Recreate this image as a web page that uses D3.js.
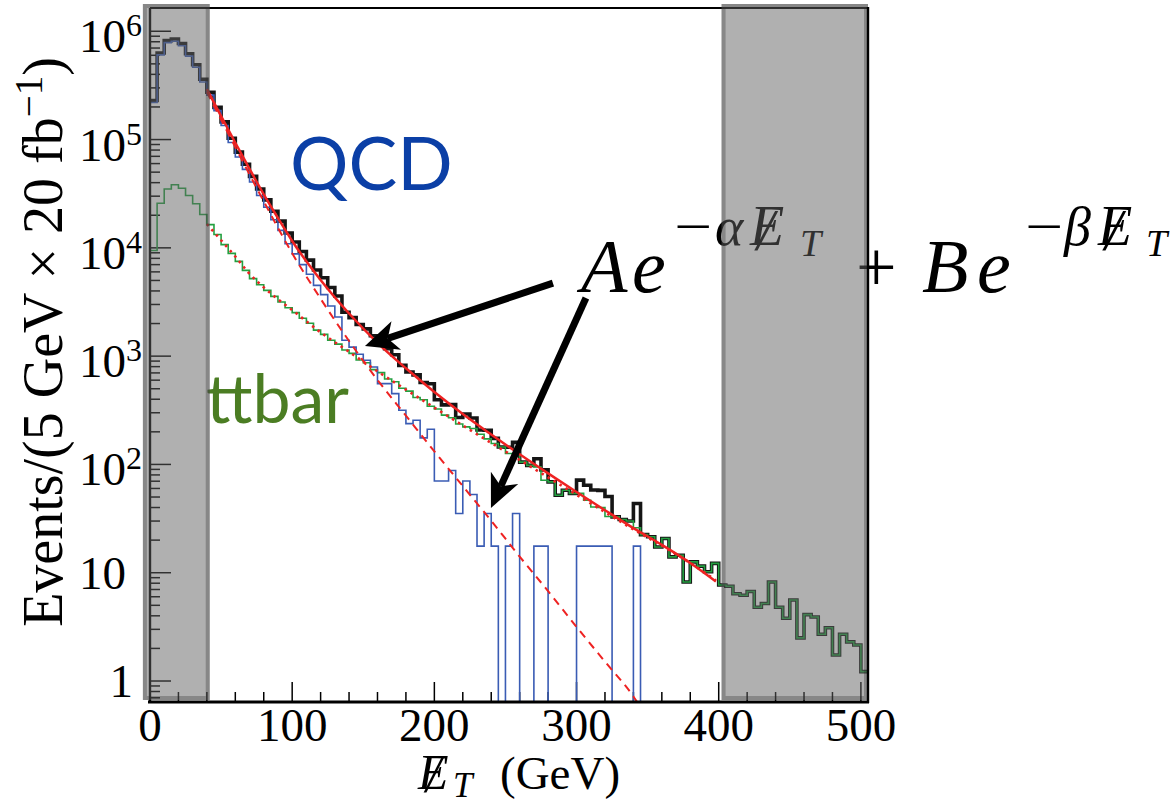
<!DOCTYPE html>
<html><head><meta charset="utf-8">
<script src="https://cdn.jsdelivr.net/npm/d3@7"></script>
<style>html,body{margin:0;padding:0;background:#fff;} svg{display:block}</style>
</head><body>
<svg id="c" width="1175" height="806"></svg>
<script>
// ---------- data ----------
const binWidth = 5;
const binStart = d3.range(0, 505, binWidth); // 0..500 GeV, 101 bins

const qcd = [220000,605000,785000,810000,735000,590000,465000,340000,257000,185000,
  135000,94000,69000,53000,40500,30400,23700,18200,14500,10900,
  8800,7000,5700,4500,3700,2900,2300,1400,1210,1040,
  915,794,557,557,451,316,238,256,176,211,
  70.4,70.4,88,35.2,70.4,52.8,17.6,35.2,17.6,0,
  17.6,35.2,0,0,17.6,17.6,0,0,0,0,
  17.6,17.6,17.6,17.6,17.6,0,0,0,17.6,0,
  0,0,0,0,0,0,0,0,0,0,
  0,0,0,0,0,0,0,0,0,0,
  0,0,0,0,0,0,0,0,0,0,0];

const ttbar = [9460,25800,35000,38200,35500,30400,25500,20300,16400,13300,
  10700,8900,7500,6200,5200,4570,4050,3560,3160,2800,
  2520,2240,2010,1740,1590,1400,1290,1140,1060,920,
  870,750,705,615,580,505,475,415,395,345,
  325,285,270,236,222,215,190,172,156,145,
  126,125,105,98,95,71.5,69,52,57.8,54,
  54,46.7,40.5,40,33,32.8,31,30,26,22.5,
  21.5,17.3,20.7,14.0,14.5,8.2,12.6,11.5,10.2,12.2,
  7.7,7.5,6.4,6.2,6.7,4.8,5.2,8.2,4.8,3.8,
  5.6,2.5,4.1,3.9,2.7,3.1,1.74,2.7,2.3,2.15,1.22];

const total = [229500,630800,820000,848200,770500,620400,490500,360300,273400,198300,
  145700,102900,76500,59200,45700,34970,27750,21760,17660,13700,
  11320,9240,7710,6240,5290,4300,3590,2540,2270,1960,
  1785,1544,1262,1172,1031,821,713,671,571,556,
  395,355,358,271,292,268,208,207,174,145,
  144,160,105,98,113,89,69,52,57.8,54,
  71.6,64.3,58.1,57.6,50.6,32.8,31,30,43.6,22.5,
  21.5,17.3,20.7,14.0,14.5,8.2,12.6,11.5,10.2,12.2,
  7.7,7.5,6.4,6.2,6.7,4.8,5.2,8.2,4.8,3.8,
  5.6,2.5,4.1,3.9,2.7,3.1,1.74,2.7,2.3,2.15,1.22];

// fit curves
const fitTotalX = [40,50,60,70,80,90,100,120,140,160,180,200,220,240,260,280,300,320,340,360,380,398];
const fitTotalY = [292000,164800,93400,53600,31200,18850,11570,5050,2476,1327,772,467,292,189,124,82.7,55.7,37.8,25.8,18.1,12.3,8.3];
const fitQcdX = [40,60,80,100,120,140,160,180,200,220,240,260,280,300,320,340,350];
const fitQcdY = [275000,85100,26900,8910,3390,1380,603,282,132,63.1,30.2,14.1,6.76,3.16,1.51,0.72,0.45];
const fitTtbarX = [40,50,60,70,80,90,100,120,140,160,180,200,220,240,260,280,300,320,340,360,380,398];
const fitTtbarY = [16600,11750,8318,5754,4315,3350,2660,1660,1096,724,490,335,229,158,110,75.9,52.5,36.3,25.1,17.8,12.3,8.5];

const cutRegions = [[-5, 42], [402, 505]];
const xTicks = d3.range(0, 501, 20);
const xTickLabels = [0, 100, 200, 300, 400, 500];
const yDecadeExp = [0, 1, 2, 3, 4, 5, 6];

// arrows: [tailGeV, tailEvents, tipGeV, tipEvents]
const arrows = [[283.4, 4730, 151.2, 1240], [306.6, 3440, 239.8, 39.6]];

// ---------- drawing ----------
const W = 1175, H = 806;
const svg = d3.select('#c');
const x = d3.scaleLinear().domain([0, 505]).range([150, 868]);
const y = d3.scaleLog().domain([0.64, 1.64e6]).range([702, 8]);
const yv = v => v > 0 ? y(v) : 712;

svg.append('rect').attr('width', W).attr('height', H).attr('fill', '#fff');
svg.append('defs').append('clipPath').attr('id', 'plotClip')
  .append('rect').attr('x', 150).attr('y', 8).attr('width', 718).attr('height', 694);

const serif = "'Liberation Serif','DejaVu Serif',serif";

// ticks
const tickG = svg.append('g').attr('stroke', '#000').attr('stroke-width', 1.5);
xTicks.forEach(t => {
  const major = t % 100 === 0;
  tickG.append('line').attr('x1', x(t)).attr('x2', x(t)).attr('y1', 702).attr('y2', 702 - (major ? 20 : 10));
});
[-1,0,1,2,3,4,5,6].forEach(e => {
  for (let m = 1; m <= 9; m++) {
    const v = m * Math.pow(10, e);
    if (v < y.domain()[0] || v > y.domain()[1]) continue;
    tickG.append('line').attr('x1', 150).attr('x2', 150 + (m === 1 ? 21 : 10)).attr('y1', y(v)).attr('y2', y(v));
  }
});

// histograms
function histPoints(vals) {
  const p = binStart.map((b, i) => [b, vals[i]]);
  p.push([binStart[binStart.length - 1] + binWidth, vals[vals.length - 1]]);
  return p;
}
const stepLine = d3.line().x(d => x(d[0])).y(d => yv(d[1])).curve(d3.curveStepAfter);
const plot = svg.append('g').attr('clip-path', 'url(#plotClip)');
plot.append('path').attr('d', stepLine(histPoints(total))).attr('fill', 'none')
  .attr('stroke', '#151515').attr('stroke-width', 3.6).attr('stroke-linejoin', 'miter');
plot.append('path').attr('d', stepLine(histPoints(ttbar))).attr('fill', 'none')
  .attr('stroke', '#23a040').attr('stroke-width', 1.6);
plot.append('path').attr('d', stepLine(histPoints(qcd))).attr('fill', 'none')
  .attr('stroke', '#3a5cb4').attr('stroke-width', 1.6);

// fits
const fitLine = d3.line().x(d => x(d[0])).y(d => y(d[1])).curve(d3.curveMonotoneX);
plot.append('path').attr('d', fitLine(d3.zip(fitTtbarX, fitTtbarY))).attr('fill', 'none')
  .attr('stroke', '#ee2222').attr('stroke-width', 2.6).attr('stroke-dasharray', '2.5,4.5');
plot.append('path').attr('d', fitLine(d3.zip(fitQcdX, fitQcdY))).attr('fill', 'none')
  .attr('stroke', '#ee2222').attr('stroke-width', 2).attr('stroke-dasharray', '8,6');
plot.append('path').attr('d', fitLine(d3.zip(fitTotalX, fitTotalY))).attr('fill', 'none')
  .attr('stroke', '#ee2222').attr('stroke-width', 2.5);

// arrows
arrows.forEach(a => {
  const tx = x(a[0]), ty = y(a[1]), hx = x(a[2]), hy = y(a[3]);
  const dx = hx - tx, dy = hy - ty, L = Math.hypot(dx, dy);
  const ux = dx / L, uy = dy / L, px = -uy, py = ux;
  const notch = [hx - 24 * ux, hy - 24 * uy];
  svg.append('line').attr('x1', tx).attr('y1', ty).attr('x2', notch[0]).attr('y2', notch[1])
    .attr('stroke', '#000').attr('stroke-width', 7);
  const w1 = [hx - 33 * ux + 15 * px, hy - 33 * uy + 15 * py];
  const w2 = [hx - 33 * ux - 15 * px, hy - 33 * uy - 15 * py];
  svg.append('path').attr('d', `M${hx},${hy}L${w1[0]},${w1[1]}L${notch[0]},${notch[1]}L${w2[0]},${w2[1]}Z`)
    .attr('fill', '#000');
});

// labels QCD / ttbar
svg.append('text').attr('x', 290).attr('y', 190).attr('font-family', "Lato,'Open Sans',sans-serif")
  .attr('font-size', 73).attr('fill', '#0b3fa6').text('QCD');
svg.append('text').attr('x', 206).attr('y', 423).attr('font-family', "Lato,'Open Sans',sans-serif")
  .attr('font-size', 68).attr('fill', '#4b7d23').text('ttbar');

// formula
function ft(xp, yp, size, txt, italic, extra) {
  const t = svg.append('text').attr('x', xp).attr('y', yp).attr('font-family', serif)
    .attr('font-size', size).attr('font-style', italic ? 'italic' : 'normal').attr('fill', '#000').text(txt);
  if (extra) extra(t);
  return t;
}
const minusFit = t => t.attr('textLength', 38).attr('lengthAdjust', 'spacingAndGlyphs');
ft(581, 292, 76, 'A', true);
ft(632, 292, 76, 'e', true);
ft(674, 244, 52, '\u2212', false, minusFit);
ft(715, 245, 54, '\u03B1', true);
ft(750, 245, 56, 'E', true);
ft(757, 250, 60, '/', true);
ft(800, 256, 38, 'T', true);
ft(856, 291, 72, '+', false);
ft(922, 292, 76, 'B', true);
ft(977, 292, 76, 'e', true);
ft(1025, 244, 52, '\u2212', false, minusFit);
ft(1064, 245, 54, '\u03B2', true);
ft(1098, 245, 56, 'E', true);
ft(1105, 250, 60, '/', true);
ft(1146, 256, 38, 'T', true);

// frame (under overlay)
const frame = svg.append('g').attr('stroke', '#000').attr('fill', 'none');
frame.append('line').attr('x1', 150).attr('x2', 868).attr('y1', 8).attr('y2', 8).attr('stroke-width', 2);
frame.append('line').attr('x1', 150).attr('x2', 150).attr('y1', 8).attr('y2', 703).attr('stroke-width', 2.4);

// cut regions (semi-transparent overlay)
cutRegions.forEach(r => {
  const x0 = x(r[0]), x1 = x(r[1]);
  svg.append('rect').attr('x', x0).attr('y', 4).attr('width', x1 - x0).attr('height', 696)
    .attr('fill', 'rgb(98,98,98)').attr('fill-opacity', 0.5);
  svg.append('rect').attr('x', x0 + 2).attr('y', 6).attr('width', x1 - x0 - 4).attr('height', 692)
    .attr('fill', 'none').attr('stroke', 'rgb(40,40,40)').attr('stroke-opacity', 0.3).attr('stroke-width', 4);
});

// frame on top
svg.append('line').attr('x1', 148).attr('x2', 869).attr('y1', 702).attr('y2', 702).attr('stroke', '#000').attr('stroke-width', 3);
svg.append('line').attr('x1', 868).attr('x2', 868).attr('y1', 7).attr('y2', 703).attr('stroke', '#000').attr('stroke-width', 2.4);

// x tick labels
xTickLabels.forEach(t => {
  svg.append('text').attr('x', x(t)).attr('y', 741).attr('text-anchor', 'middle')
    .attr('font-family', serif).attr('font-size', 47).attr('fill', '#000').text(t);
});
// y tick labels
yDecadeExp.forEach(e => {
  const v = Math.pow(10, e), ty = y(v);
  if (e === 0) {
    svg.append('text').attr('x', 133).attr('y', ty + 16).attr('text-anchor', 'end')
      .attr('font-family', serif).attr('font-size', 47).attr('fill', '#000').text('1');
  } else if (e === 1) {
    svg.append('text').attr('x', 79).attr('y', ty + 16)
      .attr('font-family', serif).attr('font-size', 47).attr('fill', '#000').text('10');
  } else {
    const t = svg.append('text').attr('x', 79).attr('y', ty + 21)
      .attr('font-family', serif).attr('font-size', 47).attr('fill', '#000');
    t.append('tspan').text('10');
    t.append('tspan').attr('dy', -16).attr('font-size', 32).text(e);
  }
});

// x axis title
ft(418, 789, 50, 'E', true);
ft(426, 792, 52, '/', true);
ft(453, 797, 35, 'T', true);
ft(500, 789, 47, '(GeV)', false);

// y axis title
const yt = svg.append('text').attr('transform', 'translate(48,342) rotate(-90)')
  .attr('x', 0).attr('y', 14).attr('text-anchor', 'middle')
  .attr('font-family', serif).attr('font-size', 56).attr('fill', '#000');
yt.append('tspan').text('Events/(5 GeV \u00D7 20 fb');
yt.append('tspan').attr('dy', -20).attr('font-size', 39).text('\u22121');
yt.append('tspan').attr('dy', 20).text(')');
</script>
</body></html>
